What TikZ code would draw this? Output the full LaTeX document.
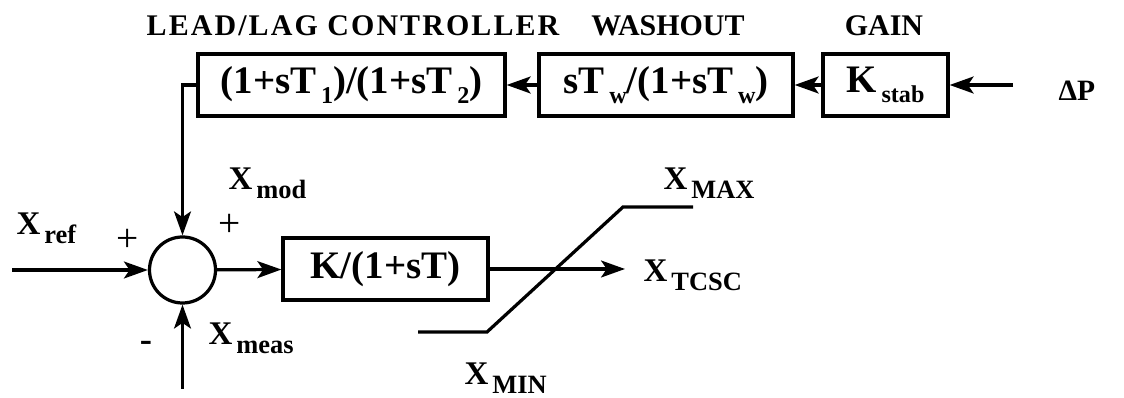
\documentclass[tikz,border=0pt]{standalone}
\usepackage{fontspec}
\setmainfont{Liberation Serif}
\usepackage{graphicx}
\usetikzlibrary{arrows.meta, positioning}

% letter with a lowered, smaller index
\newcommand{\lsub}[3][0.8]{#2\hspace{0.12em}\raisebox{-0.55ex}{\scalebox{#1}{#3}}}

\begin{document}
\begin{tikzpicture}[x=0.025cm, y=-0.025cm, line width=2.3pt,
    every node/.style={font=\bfseries\fontsize{23.5}{26}\selectfont}]
  \tikzset{blk/.style={draw, rectangle, minimum height=1.55cm, inner sep=0pt,
             font=\bfseries\fontsize{27.7}{30}\selectfont},
           sumnode/.style={draw, circle, minimum size=1.65cm, inner sep=0pt},
           sig/.style={-{Stealth[length=17pt, width=12pt, inset=4pt]}},
           ttl/.style={anchor=base, font=\bfseries\fontsize{21.3}{24}\selectfont},
           lbl/.style={anchor=base west, inner sep=0pt},
           sgn/.style={inner sep=0pt, font=\fontsize{28}{30}\selectfont}}
  \useasboundingbox (0,0) rectangle (1124,398);

  % titles
  \node[ttl] (tlead) at (353,36) {\addfontfeature{LetterSpace=7}LEAD/LAG CONTROLLER};
  \node[ttl] (twash) at (668,36) {WASHOUT};
  \node[ttl] (tgain) at (884,36) {GAIN};

  % blocks
  \node[blk, minimum width=7.675cm] (lead) at (351.5,85)
    {(1+s\lsub[0.62]{T}{1})/(1+s\lsub[0.62]{T}{2})};
  \node[blk, minimum width=6.35cm] (wash) at (666,85)
    {s\lsub[0.62]{T}{w}/(1+s\lsub[0.62]{T}{w})};
  \node[blk, minimum width=3.125cm] (gain) at (885.5,85) {\lsub[0.62]{K}{stab}};
  \node[blk, minimum width=5.125cm] (kblk) at (385.5,269) {K/(1+sT)};
  \node[sumnode] (sum) at (182.5,270) {};

  % free ends
  \coordinate (dpin) at (1013,85);
  \coordinate (xrefin) at (12,270);
  \coordinate (xmeasin) at (182.5,389);
  \coordinate (xout) at (625,269);

  % labels
  \node[lbl, font=\bfseries\fontsize{21}{23}\selectfont] (dp) at (1057,101) {ΔP};
  \node[lbl] (xref) at (15,235) {\lsub{X}{ref}};
  \node[lbl] (xmod) at (227,190) {\lsub{X}{mod}};
  \node[lbl] (xmeas) at (207,345) {\lsub{X}{meas}};
  \node[lbl] (xmin) at (463,385) {\lsub{X}{MIN}};
  \node[lbl] (xmax) at (662,190) {\lsub{X}{MAX}};
  \node[lbl] (xtcsc) at (642,282) {\lsub{X}{TCSC}};
  \node[sgn] (pref) at (128,240) {+};
  \node[sgn] (pmod) at (230,225) {+};
  \node[sgn, font=\bfseries\fontsize{26}{28}\selectfont] (mmeas) at (146,346) {-};

  % signal lines
  \draw[sig] (dpin) -- (gain);
  \draw[sig] (gain) -- (wash);
  \draw[sig] (wash) -- (lead);
  \draw[sig] (lead.west) -| (sum.north);
  \draw[sig] (xrefin) -- (sum);
  \draw[sig] (xmeasin) -- (sum);
  \draw[sig] (sum) -- (kblk);
  \draw[sig] (kblk) -- (xout);

  % limiter
  \draw (418,332) -- (487,332) -- (623,207) -- (693,207);
\end{tikzpicture}
\end{document}
